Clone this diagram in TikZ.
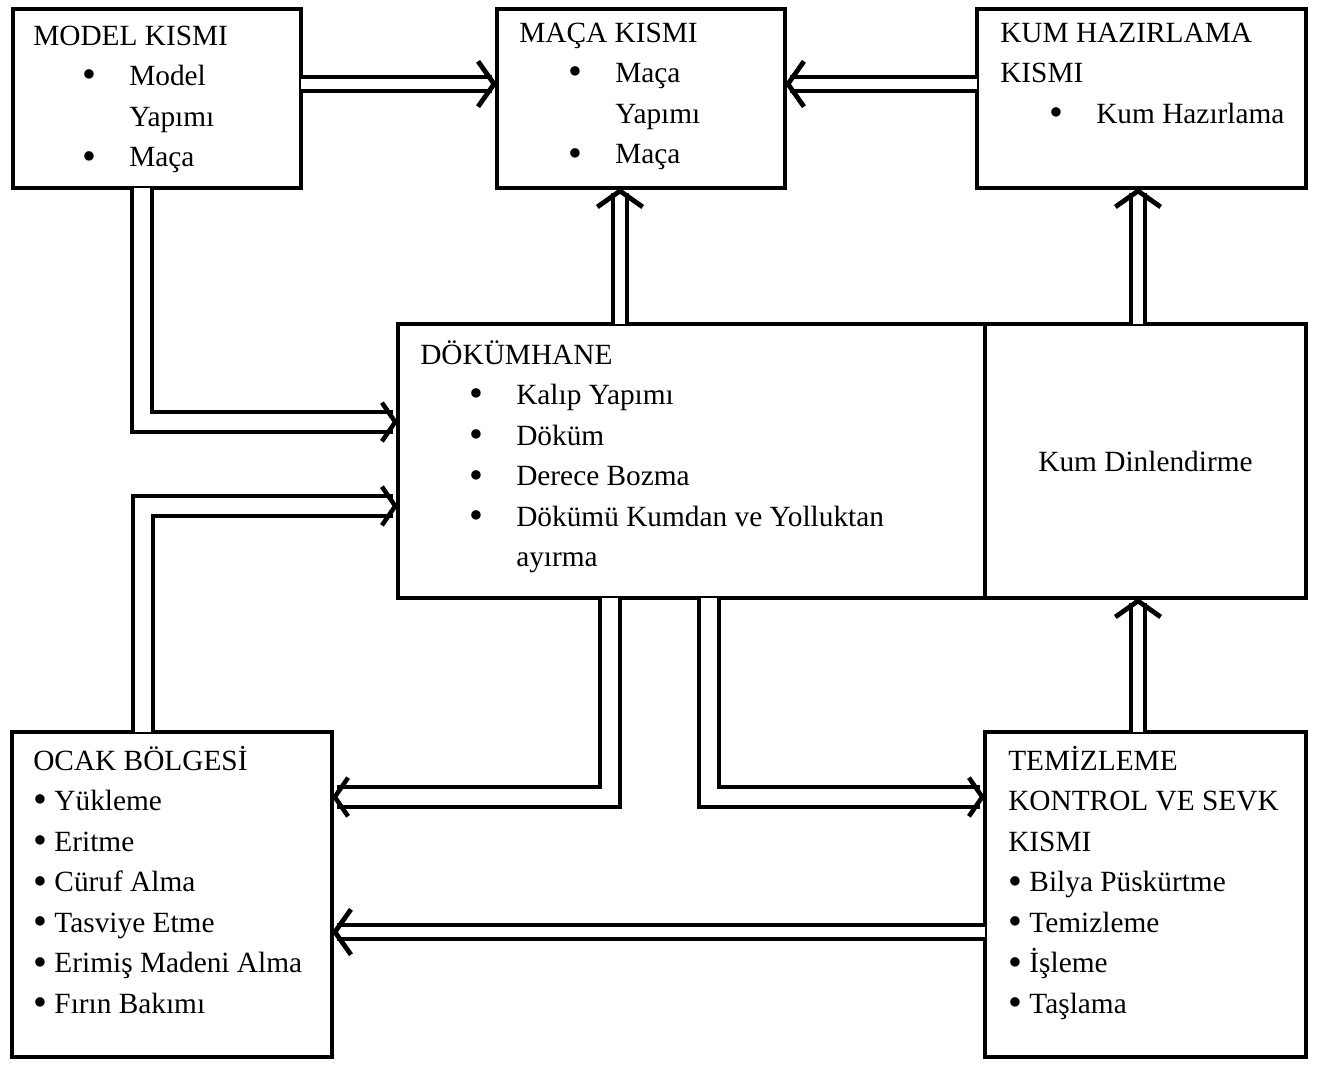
\documentclass[tikz,border=0pt]{standalone}
\usepackage{fontspec}
\setmainfont{Liberation Serif}
\usetikzlibrary{positioning, arrows.meta, calc}
\tikzset{
  unitbox/.style={draw, line width=3.4pt, inner sep=0pt, outer sep=0pt},
  boxtext/.style={anchor=base west, inner sep=0pt},
  flow/.style={double, line width=3pt, double distance=8pt,
    -{Straight Barb[line width=3.6pt, length=12pt, width=34pt]}},
  bendflow/.style={double, line width=3pt, double distance=12pt,
    -{Straight Barb[line width=3.4pt, length=10pt, width=29pt]}}
}
\newcommand{\bul}{\raisebox{-1.8pt}{\scalebox{1.35}{•}}}
\newcommand{\blt}[1]{\hspace*{36.75pt}\makebox[35.25pt][l]{\bul}#1}
\newcommand{\cnt}[1]{\hspace*{72pt}#1}

\begin{document}
\begin{tikzpicture}[x=0.75pt, y=-0.75pt, font=\fontsize{22}{30.4}\selectfont]
  \useasboundingbox (0,0) rectangle (1331,1064);
  % units
  \node[unitbox, anchor=north west, minimum width=216pt, minimum height=134.25pt] (model) at (13,9) {};
  \node[unitbox, anchor=north west, minimum width=216pt, minimum height=134.25pt] (maca) at (497,9) {};
  \node[unitbox, anchor=north west, minimum width=246.75pt, minimum height=134.25pt] (kum) at (977,9) {};
  \node[unitbox, anchor=north west, minimum width=440.25pt, minimum height=205.5pt] (dok) at (398,324) {};
  \node[unitbox, right=0pt of dok, minimum width=240.75pt, minimum height=205.5pt] (dinl) {Kum Dinlendirme};
  \node[unitbox, anchor=north west, minimum width=240pt, minimum height=243.75pt] (ocak) at (12,732) {};
  \node[unitbox, anchor=north west, minimum width=240.75pt, minimum height=243.75pt] (tem) at (985,732) {};

  % texts
  \node[boxtext] (model-t) at ([shift={(20,36)}]model.north west)
    {\parbox[t]{210pt}{MODEL KISMI\\ \blt{Model}\\ \cnt{Yapımı}\\ \blt{Maça}}};
  \node[boxtext] (maca-t) at ([shift={(22,33)}]maca.north west)
    {\parbox[t]{210pt}{MAÇA KISMI\\ \blt{Maça}\\ \cnt{Yapımı}\\ \blt{Maça}}};
  \node[boxtext] (kum-t) at ([shift={(23,33)}]kum.north west)
    {\parbox[t]{240pt}{KUM HAZIRLAMA\\ KISMI\\ \blt{Kum Hazırlama}}};
  \node[boxtext] (dok-t) at ([shift={(22,40)}]dok.north west)
    {\parbox[t]{420pt}{DÖKÜMHANE\\ \blt{Kalıp Yapımı}\\ \blt{Döküm}\\ \blt{Derece Bozma}\\
      \blt{Dökümü Kumdan ve Yolluktan}\\ \cnt{ayırma}}};
  \node[boxtext] (ocak-t) at ([shift={(21,38)}]ocak.north west)
    {\parbox[t]{230pt}{OCAK BÖLGESİ\\ \bul{} Yükleme\\ \bul{} Eritme\\ \bul{} Cüruf Alma\\ \bul{} Tasviye Etme\\
      \bul{} Erimiş Madeni Alma\\ \bul{} Fırın Bakımı}};
  \node[boxtext] (tem-t) at ([shift={(23,38)}]tem.north west)
    {\parbox[t]{230pt}{TEMİZLEME\\ KONTROL VE SEVK\\ KISMI\\ \bul{} Bilya Püskürtme\\ \bul{} Temizleme\\
      \bul{} İşleme\\ \bul{} Taşlama}};

  % routing lines
  \coordinate (row1) at (0,84);
  \coordinate (row2) at (0,422);
  \coordinate (row3) at (0,506);
  \coordinate (row4) at (0,797);
  \coordinate (row5) at (0,932);
  \coordinate (col1) at (620,0);
  \coordinate (col2) at (1138,0);
  \coordinate (col3) at (141.5,0);
  \coordinate (col4) at (142.5,0);
  \coordinate (col5) at (610,0);
  \coordinate (col6) at (709,0);

  \draw[flow] (model.east |- row1) -- (maca.west |- row1);
  \draw[flow] (kum.west |- row1) -- (maca.east |- row1);
  \draw[flow] (dok.north -| col1) -- (maca.south -| col1);
  \draw[flow] (dinl.north -| col2) -- (kum.south -| col2);
  \draw[bendflow] (model.south -| col3) |- (dok.west |- row2);
  \draw[bendflow] (ocak.north -| col4) |- (dok.west |- row3);
  \draw[bendflow] (dok.south -| col5) |- (ocak.east |- row4);
  \draw[bendflow] (dok.south -| col6) |- (tem.west |- row4);
  \draw[flow] (tem.north -| col2) -- (dinl.south -| col2);
  \draw[flow] (tem.west |- row5) -- (ocak.east |- row5);
\end{tikzpicture}
\end{document}
